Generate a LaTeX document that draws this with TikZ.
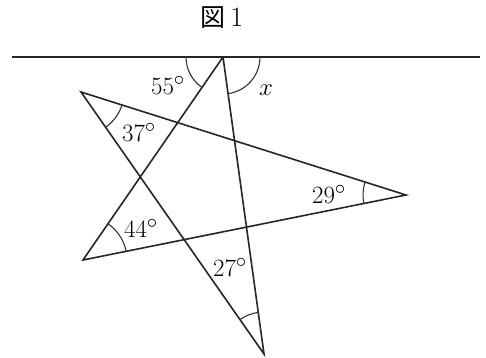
\documentclass[tikz,border=0pt]{standalone}
\usepackage{fontspec}
\newfontfamily\cjk{Noto Sans CJK JP}
\usetikzlibrary{angles}
\begin{document}
\begin{tikzpicture}[x=1pt,y=1pt,
  edge/.style={line width=1.6pt, black!85},
  ang/.style={draw, line width=1.1pt, black!80},
  lbl/.style={font=\fontsize{28}{28}\selectfont, inner sep=0pt}]
\useasboundingbox (0,0) rectangle (486,357);
\fill[white] (0,0) rectangle (486,357);
\coordinate (T) at (223,300);
\coordinate (LT) at (81,265);
\coordinate (R) at (406,162);
\coordinate (LB) at (83,97);
\coordinate (B) at (264,3);
\coordinate (HL) at (12,300);
\coordinate (HR) at (480,300);
\draw[edge] (HL) -- (HR);
\draw[edge] (T) -- (LB) -- (R) -- (LT) -- (B) -- (T);
\pic[ang, angle radius=37pt] {angle = HL--T--LB};
\pic[ang, angle radius=37pt] {angle = B--T--HR};
\pic[ang, angle radius=43pt] {angle = B--LT--R};
\pic[ang, angle radius=43pt] {angle = LT--R--LB};
\pic[ang, angle radius=44pt] {angle = R--LB--T};
\pic[ang, angle radius=42pt] {angle = T--B--LT};
\node[lbl] (a55) at (168,272) {$55^\circ$};
\node[lbl] (ax) at (266,267) {$x$};
\node[lbl] (a37) at (139,225) {$37^\circ$};
\node[lbl] (a44) at (141,129) {$44^\circ$};
\node[lbl] (a29) at (329,163) {$29^\circ$};
\node[lbl] (a27) at (230,90) {$27^\circ$};
\node[lbl] (title) at (222,339) {{\cjk\fontsize{25}{25}\selectfont 図}\,1};
\end{tikzpicture}
\end{document}
